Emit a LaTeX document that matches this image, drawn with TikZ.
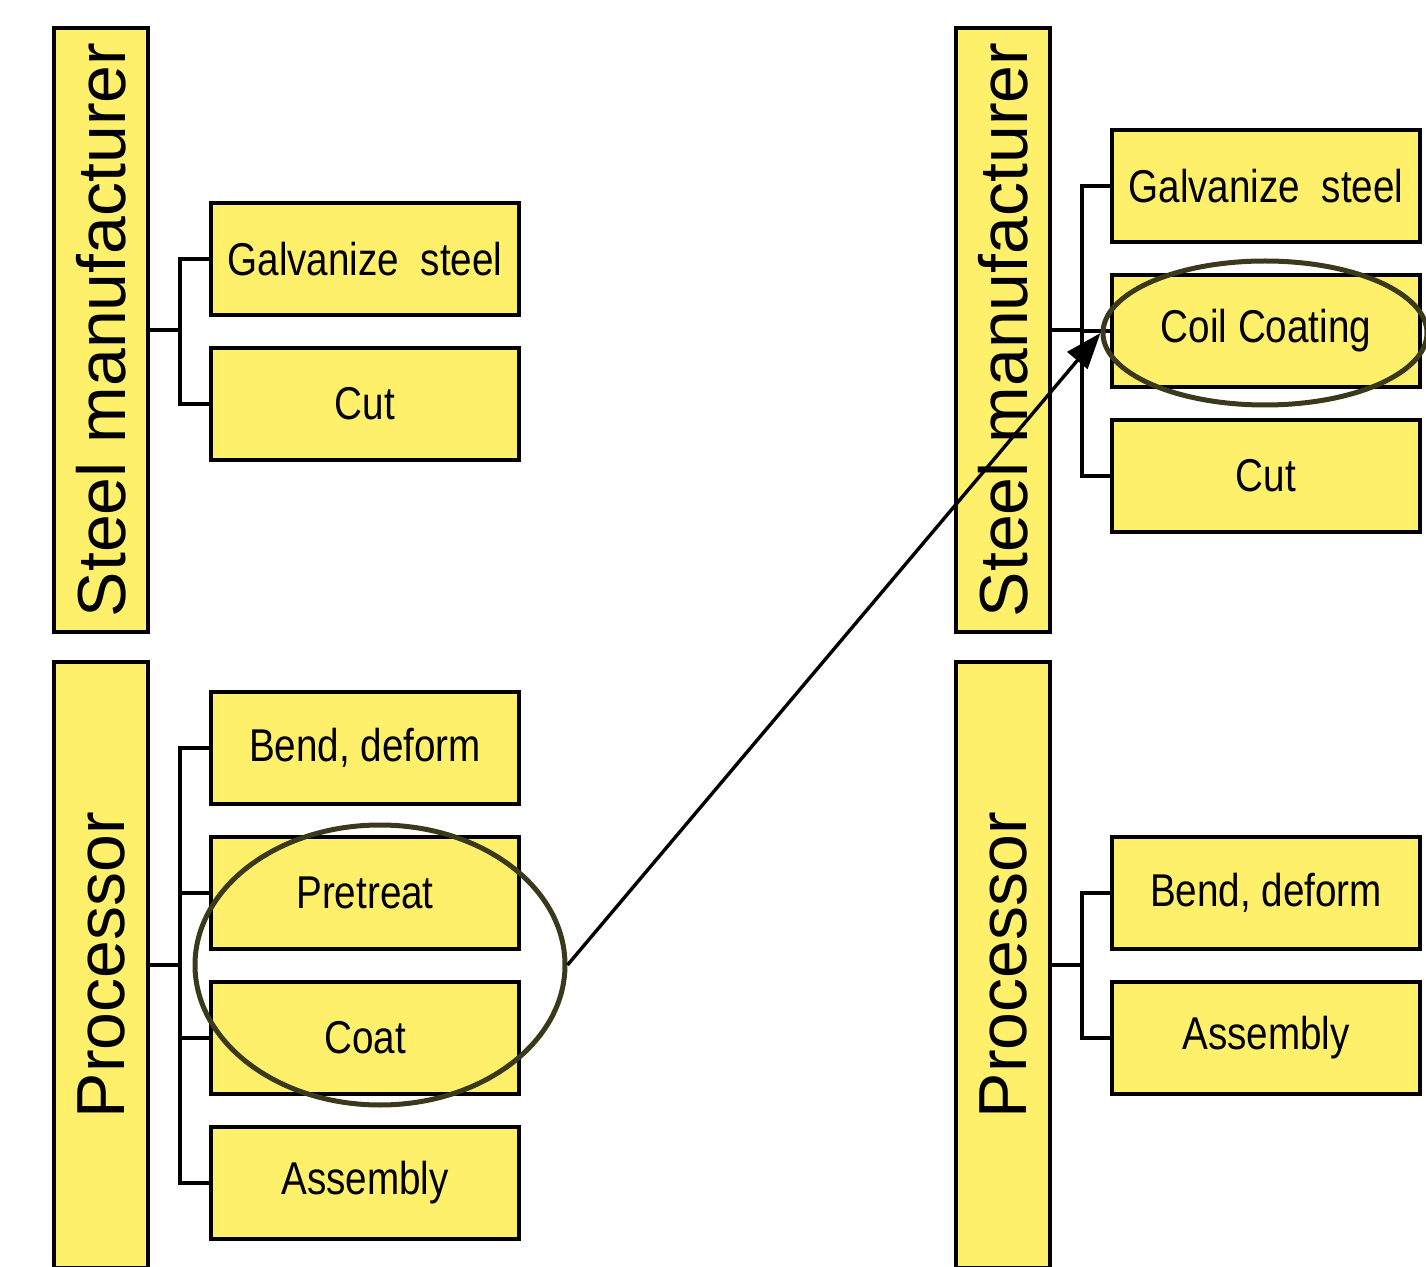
\documentclass[tikz,border=0pt]{standalone}
\usepackage{fontspec}
\setmainfont{Liberation Sans}
\newfontfamily\boxfont[FakeStretch=0.84]{Liberation Sans}
\usetikzlibrary{positioning,arrows.meta,shapes.geometric}
\definecolor{boxyellow}{HTML}{FFF06B}
\definecolor{ringolive}{HTML}{3B391C}

\begin{document}
\begin{tikzpicture}[x=0.5pt, y=-0.5pt, node distance=14.5pt,
  bar/.style={draw=black, line width=2pt, fill=boxyellow, rotate=90, minimum height=47pt, inner sep=0pt, font=\fontsize{34}{36}\selectfont},
  stage/.style={draw=black, line width=2pt, fill=boxyellow, minimum width=154pt, minimum height=56pt, inner sep=0pt, font=\boxfont\fontsize{23}{25}\selectfont},
  link/.style={draw=black, line width=2pt},
  ring/.style={ellipse, draw=ringolive, line width=2.5pt, inner sep=0pt},
  arr/.style={-{Triangle[length=18pt, width=13pt]}, draw=black, line width=1.7pt}]
\clip (0,0) rectangle (1426,1267);
% left: before
\node[bar, minimum width=302pt] (smL) at (101,330) {Steel manufacturer};
\node[bar, minimum width=303pt] (prL) at (101,965) {Processor};
\node[stage] (galvL) at (365,259) {Galvanize\ \ steel};
\node[stage, below=of galvL] (cutL) {Cut};
\node[stage] (bendL) at (365,748) {Bend, deform};
\node[stage, below=of bendL] (pretL) {Pretreat};
\node[stage, below=of pretL] (coatL) {Coat};
\node[stage, below=of coatL] (asmL) {Assembly};
% right: after
\node[bar, minimum width=302pt] (smR) at (1003,330) {Steel manufacturer};
\node[bar, minimum width=303pt] (prR) at (1003,965) {Processor};
\node[stage] (galvR) at (1266,186) {Galvanize\ \ steel};
\node[stage, below=of galvR] (coilR) {Coil Coating};
\node[stage, below=of coilR] (cutR) {Cut};
\node[stage] (bendR) at (1266,893) {Bend, deform};
\node[stage, below=of bendR] (asmR) {Assembly};
% brackets
\foreach \b in {galvL,cutL} \draw[link] (smL.south) -- ++(15pt,0) |- (\b.west);
\foreach \b in {bendL,pretL,coatL,asmL} \draw[link] (prL.south) -- ++(15pt,0) |- (\b.west);
\foreach \b in {galvR,coilR,cutR} \draw[link] (smR.south) -- ++(15pt,0) |- (\b.west);
\foreach \b in {bendR,asmR} \draw[link] (prR.south) -- ++(15pt,0) |- (\b.west);
% highlight
\node[ring, minimum width=185pt, minimum height=140pt] (oldCoat) at (380,965) {};
\node[ring, minimum width=162pt, minimum height=72pt] (newCoat) at (1265,333) {};
\draw[arr] (oldCoat.east) -- (newCoat.west);
\end{tikzpicture}
\end{document}
